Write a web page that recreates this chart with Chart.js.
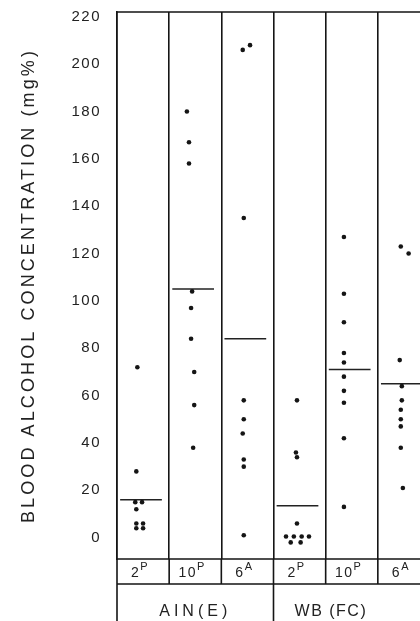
<!DOCTYPE html>
<html>
<head>
<meta charset="utf-8">
<script src="https://cdn.jsdelivr.net/npm/chart.js@4.4.1/dist/chart.umd.min.js"></script>
<style>
  html, body { margin: 0; padding: 0; background: #fff; overflow: hidden; }
  #wrap { width: 440px; height: 621px; }
</style>
</head>
<body>
<div id="wrap"><canvas id="chart" width="440" height="621"></canvas></div>
<script>
// ---- values ----
const categories = ['2', '10', '6', '2', '10', '6'];
const superscripts = ['P', 'P', 'A', 'P', 'P', 'A'];
const groups = ['AIN(E)', 'WB (FC)'];
const yTicks = [0, 20, 40, 60, 80, 100, 120, 140, 160, 180, 200, 220];

// blood alcohol per animal (mg%), one list per column
const ain2P = [72, 28, 15, 15, 12, 6, 6, 4, 4];
const ain10P = [180, 167, 158, 104, 97, 84, 70, 56, 38];
const ain6A = [208, 206, 135, 58, 50, 44, 33, 30, 1];
const wb2P = [58, 36, 34, 6, 0.5, 0.5, 0.5, 0.5, -2, -2];
const wb10P = [127, 103, 91, 78, 74, 68, 62, 57, 42, 13];
const wb6A = [123, 120, 75, 64, 58, 54, 50, 47, 38, 21];

// horizontal scatter of the dots inside each column (column units)
const ain2PJitter = [-0.11, -0.13, -0.15, -0.02, -0.13, -0.13, 0, -0.13, 0];
const ain10PJitter = [-0.16, -0.12, -0.12, -0.06, -0.08, -0.08, -0.02, -0.02, -0.04];
const ain6AJitter = [0.05, -0.09, -0.07, -0.07, -0.07, -0.09, -0.07, -0.07, -0.07];
const wb2PJitter = [-0.05, -0.07, -0.05, -0.05, -0.26, -0.11, 0.04, 0.18, -0.17, 0.02];
const wb10PJitter = [-0.15, -0.15, -0.15, -0.15, -0.15, -0.15, -0.15, -0.15, -0.15, -0.15];
const wb6AJitter = [-0.06, 0.09, -0.08, -0.04, -0.04, -0.06, -0.06, -0.06, -0.06, -0.02];

// group means (horizontal bars)
const means = [16, 105, 84, 13.5, 71, 65];

// ---- layout ----
const INK = '#151515';
const colEdges = [-0.5, 0.5, 1.5, 2.5, 3.5, 4.5, 5.5];
const groupEdges = [-0.5, 2.5, 5.5];
const groupLabelX = [1, 3.6];
const groupSpacing = ['4px', '1.5px'];

const columns = [
  { y: ain2P, dx: ain2PJitter },
  { y: ain10P, dx: ain10PJitter },
  { y: ain6A, dx: ain6AJitter },
  { y: wb2P, dx: wb2PJitter },
  { y: wb10P, dx: wb10PJitter },
  { y: wb6A, dx: wb6AJitter }
];

const datasets = [];
columns.forEach((col, i) => {
  datasets.push({
    type: 'scatter',
    data: col.y.map((v, k) => ({ x: i + col.dx[k], y: v })),
    pointRadius: 2.3,
    pointBackgroundColor: INK,
    pointBorderWidth: 0
  });
  datasets.push({
    type: 'line',
    data: [{ x: i - 0.44, y: means[i] }, { x: i + 0.36, y: means[i] }],
    borderColor: '#222',
    borderWidth: 1.4,
    pointRadius: 0,
    fill: false
  });
});

const tablePlugin = {
  id: 'table',
  beforeDraw(chart) {
    chart.ctx.letterSpacing = '1.5px';
  },
  afterDraw(chart) {
    const { ctx, chartArea: a, scales: { x } } = chart;
    const rowTop = a.bottom, rowBot = a.bottom + 25, bottom = chart.height;
    ctx.save();
    ctx.strokeStyle = INK;
    ctx.lineWidth = 1.6;
    ctx.beginPath();
    ctx.moveTo(a.left, a.top); ctx.lineTo(a.right, a.top);
    ctx.moveTo(a.left, rowTop); ctx.lineTo(a.right, rowTop);
    ctx.moveTo(a.left, rowBot); ctx.lineTo(a.right, rowBot);
    colEdges.forEach(v => {
      const px = x.getPixelForValue(v);
      ctx.moveTo(px, rowTop); ctx.lineTo(px, rowBot);
    });
    groupEdges.forEach(v => {
      const px = x.getPixelForValue(v);
      ctx.moveTo(px, rowBot); ctx.lineTo(px, bottom);
    });
    ctx.stroke();

    // column labels with superscripts
    ctx.fillStyle = '#222';
    ctx.textBaseline = 'alphabetic';
    ctx.textAlign = 'left';
    categories.forEach((c, i) => {
      ctx.letterSpacing = '1.5px';
      ctx.font = '14px "Liberation Sans"';
      const w1 = ctx.measureText(c).width;
      ctx.font = '11px "Liberation Sans"';
      const w2 = ctx.measureText(superscripts[i]).width;
      const cx = x.getPixelForValue(i) - 3;
      const left = cx - (w1 + w2) / 2;
      ctx.font = '14px "Liberation Sans"';
      ctx.fillText(c, left, rowTop + 18);
      ctx.font = '11px "Liberation Sans"';
      ctx.fillText(superscripts[i], left + w1, rowTop + 11);
    });

    // group labels
    ctx.textAlign = 'center';
    ctx.font = '16px "Liberation Sans"';
    groups.forEach((g, i) => {
      ctx.letterSpacing = groupSpacing[i];
      ctx.fillText(g, x.getPixelForValue(groupLabelX[i]), rowBot + 32);
    });

    // y axis title
    ctx.letterSpacing = '3.1px';
    ctx.font = '18px "Liberation Sans"';
    ctx.translate(34, (a.top + a.bottom) / 2);
    ctx.rotate(-Math.PI / 2);
    ctx.fillText('BLOOD ALCOHOL CONCENTRATION (mg%)', 0, 0);
    ctx.restore();
  }
};

new Chart(document.getElementById('chart'), {
  type: 'scatter',
  data: { datasets },
  options: {
    responsive: false,
    animation: false,
    layout: { padding: { top: 12, right: 10, bottom: 62, left: 0 } },
    plugins: { legend: { display: false }, tooltip: { enabled: false } },
    scales: {
      x: {
        type: 'linear',
        min: -0.5,
        max: 5.5,
        afterBuildTicks: s => { s.ticks = colEdges.map(v => ({ value: v })); },
        afterFit: s => { s.height = 0; s.paddingLeft = 0; s.paddingRight = 0; },
        ticks: { display: false },
        grid: { color: INK, lineWidth: 1.6, drawTicks: false },
        border: { display: false }
      },
      y: {
        min: -9,
        max: 222,
        afterBuildTicks: s => { s.ticks = yTicks.map(v => ({ value: v })); },
        afterFit: s => { s.width = 117; s.paddingTop = 0; s.paddingBottom = 0; },
        ticks: { color: '#222', padding: 8, font: { family: 'Liberation Sans', size: 15 } },
        grid: { display: false },
        border: { color: INK, width: 1.6 }
      }
    }
  },
  plugins: [tablePlugin]
});
</script>
</body>
</html>
